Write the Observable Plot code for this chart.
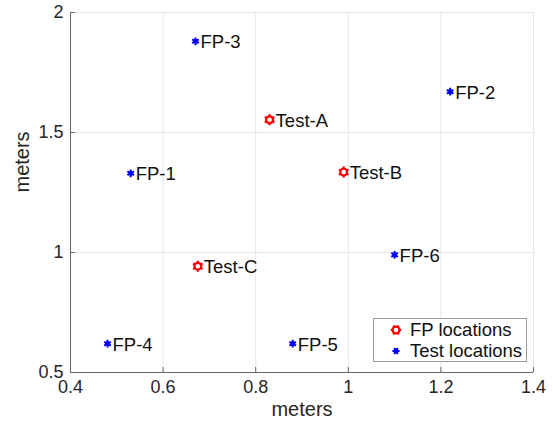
<!DOCTYPE html>
<html>
<head>
<meta charset="utf-8">
<script src="https://cdn.jsdelivr.net/npm/d3@7"></script>
<script src="https://cdn.jsdelivr.net/npm/@observablehq/plot@0.6"></script>
<style>
  html, body { margin: 0; padding: 0; background: #fff; }
  #wrap { position: relative; width: 553px; height: 423px; font-family: "Liberation Sans", Arial, Helvetica, sans-serif; }
  #legend { position: absolute; left: 373px; top: 318px; width: 152px; height: 42px; border: 1px solid #9a9a9a; background: #fff; }
  .lrow { position: absolute; left: 0; height: 20px; display: flex; align-items: center; font-size: 18.5px; color: #111; white-space: nowrap; }
  .lrow svg { margin-left: 16px; margin-right: 8px; }
</style>
</head>
<body>
<div id="wrap"><div id="chart"></div><div id="legend"></div></div>
<script>
// Data
const fpNames = ["FP-1", "FP-2", "FP-3", "FP-4", "FP-5", "FP-6"];
const fpX = [0.53, 1.22, 0.67, 0.48, 0.88, 1.10];
const fpY = [1.33, 1.67, 1.88, 0.62, 0.62, 0.99];

const testNames = ["Test-A", "Test-B", "Test-C"];
const testX = [0.83, 0.99, 0.675];
const testY = [1.553, 1.335, 0.943];

const xTicks = [0.4, 0.6, 0.8, 1.0, 1.2, 1.4];
const yTicks = [0.5, 1.0, 1.5, 2.0];
const xTickLabels = ["0.4", "0.6", "0.8", "1", "1.2", "1.4"];
const yTickLabels = ["0.5", "1", "1.5", "2"];

const legendLabels = ["FP locations", "Test locations"];
const legendColors = ["red", "blue"];

const fp = fpNames.map((name, i) => ({name, x: fpX[i], y: fpY[i]}));
const tests = testNames.map((name, i) => ({name, x: testX[i], y: testY[i]}));

const font = "Liberation Sans, Arial, Helvetica, sans-serif";

const chart = Plot.plot({
  width: 553,
  height: 423,
  marginLeft: 70,
  marginRight: 20,
  marginTop: 12,
  marginBottom: 51,
  style: {fontFamily: font, background: "#fff", color: "#262626"},
  x: {domain: [0.4, 1.4]},
  y: {domain: [0.5, 2.0]},
  marks: [
    Plot.gridX(xTicks, {stroke: "#e6e6e6", strokeOpacity: 1, strokeWidth: 1}),
    Plot.gridY(yTicks, {stroke: "#e6e6e6", strokeOpacity: 1, strokeWidth: 1}),
    Plot.axisX(xTicks, {tickSize: -5, tickFormat: () => "", stroke: "#666", label: null}),
    Plot.axisY(yTicks, {tickSize: -5, tickFormat: () => "", stroke: "#666", label: null}),
    Plot.axisX(xTicks, {tickSize: 0, tickPadding: 8, tickFormat: (d, i) => xTickLabels[i], fontSize: 18, fill: "#262626", label: null}),
    Plot.axisY(yTicks, {tickSize: 0, tickPadding: 7, tickFormat: (d, i) => yTickLabels[i], fontSize: 18, fill: "#262626", label: null}),
    Plot.ruleY([0.5], {stroke: "#666", strokeWidth: 1}),
    Plot.ruleX([0.4], {stroke: "#666", strokeWidth: 1}),
    Plot.text(["meters"], {frameAnchor: "bottom", dy: 43, fontSize: 20, fill: "#262626"}),
    Plot.text(["meters"], {frameAnchor: "left", dx: -48, rotate: -90, fontSize: 20, fill: "#262626"}),
    // FP points (blue)
    Plot.dot(fp, {x: "x", y: "y", symbol: "asterisk", r: 3.6, stroke: "blue", strokeWidth: 2}),
    Plot.dot(fp, {x: "x", y: "y", r: 2.4, fill: "blue"}),
    Plot.text(fp, {x: "x", y: "y", text: "name", textAnchor: "start", dx: 5, dy: 1, fontSize: 18.5, fill: "#111"}),
    // Test points (red)
    Plot.dot(tests, {x: "x", y: "y", symbol: "asterisk", r: 5.2, stroke: "red", strokeWidth: 2.2}),
    Plot.dot(tests, {x: "x", y: "y", r: 3.4, stroke: "red", strokeWidth: 2.2, fill: "white"}),
    Plot.text(tests, {x: "x", y: "y", text: "name", textAnchor: "start", dx: 6, dy: 1, fontSize: 18.5, fill: "#111"})
  ]
});
document.getElementById("chart").appendChild(chart);

// Legend
const legend = d3.select("#legend");
legendLabels.forEach((label, i) => {
  const row = legend.append("div").attr("class", "lrow").style("top", (1 + i * 21) + "px");
  const svg = row.append("svg").attr("width", 12).attr("height", 12);
  const c = legendColors[i];
  const R = i === 0 ? 5.2 : 3.6;
  [0, 60, 120].forEach(a => {
    const rad = a * Math.PI / 180;
    svg.append("line")
      .attr("x1", 6 - R * Math.cos(rad)).attr("y1", 6 - R * Math.sin(rad))
      .attr("x2", 6 + R * Math.cos(rad)).attr("y2", 6 + R * Math.sin(rad))
      .attr("stroke", c).attr("stroke-width", i === 0 ? 2.2 : 2);
  });
  if (i === 0) {
    svg.append("circle").attr("cx", 6).attr("cy", 6).attr("r", 3.4).attr("fill", "white").attr("stroke", c).attr("stroke-width", 2.2);
  } else {
    svg.append("circle").attr("cx", 6).attr("cy", 6).attr("r", 2.4).attr("fill", c);
  }
  row.append("span").text(label);
});
</script>
</body>
</html>
